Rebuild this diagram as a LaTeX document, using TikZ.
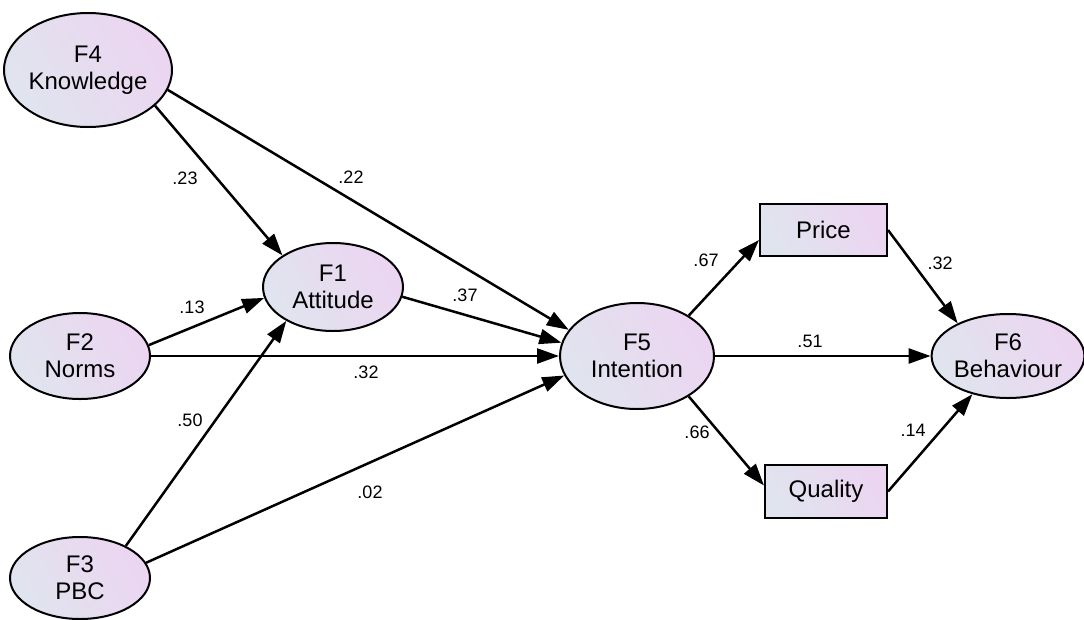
\documentclass[tikz,border=0pt]{standalone}
\usepackage{fontspec}
\setmainfont{Liberation Sans}
\usetikzlibrary{shapes.geometric,arrows.meta,calc}

\definecolor{shadeA}{HTML}{E0E4EE}
\definecolor{shadeB}{HTML}{ECD5F1}

\tikzset{
  latent/.style={ellipse, draw, line width=2pt, inner sep=0pt,
    left color=shadeA, right color=shadeB, shading angle=120,
    align=center, font=\fontsize{24}{27}\selectfont},
  observed/.style={rectangle, draw, line width=2pt, inner sep=0pt,
    left color=shadeA, right color=shadeB, shading angle=120,
    align=center, font=\fontsize{24}{27}\selectfont},
  path/.style={line width=2.5pt, -{Triangle[length=22pt,width=15pt]}},
  coef/.style={font=\fontsize{18}{20}\selectfont, inner sep=0pt}
}

\begin{document}
\begin{tikzpicture}[x=1pt, y=-1pt]
  \useasboundingbox (0,0) rectangle (1084,619);

  % latent constructs
  \node[latent, minimum width=154pt, minimum height=114pt] (F4) at (88,70)   {F4\\Knowledge};
  \node[latent, minimum width=140pt, minimum height=88pt]  (F1) at (333,287) {F1\\Attitude};
  \node[latent, minimum width=140pt, minimum height=86pt]  (F2) at (80,356)  {F2\\Norms};
  \node[latent, minimum width=140pt, minimum height=82pt]  (F3) at (80,578)  {F3\\PBC};
  \node[latent, minimum width=154pt, minimum height=106pt] (F5) at (637,356) {F5\\Intention};
  \node[latent, minimum width=148pt, minimum height=84pt]  (F6) at (1008,356) {F6\\Behaviour};

  % observed variables
  \node[observed, minimum width=127pt, minimum height=52pt] (P) at (823.5,230) {Price};
  \node[observed, minimum width=122pt, minimum height=53pt] (Q) at (826,491.5) {Quality};

  % structural paths
  \draw[path] (F4.-28.5) -- (F1.148);
  \draw[path] (F4.-14.4) -- (F5.159);
  \draw[path] (F2.9.7)   -- (F1.189);
  \draw[path] (F2.0)     -- (F5.180);
  \draw[path] (F3.35)    -- (F1.216);
  \draw[path] (F3.13)    -- (F5.195);
  \draw[path] (F1.-8)    -- (F5.170);
  \draw[path] (F5.38.5)  -- ($(P.west)+(0,10)$);
  \draw[path] (F5.0)     -- (F6.180);
  \draw[path] (F5.-38.5) -- ($(Q.west)+(0,-6)$);
  \draw[path] (P.east)   -- (F6.147);
  \draw[path] (Q.east)   -- (F6.227);

  % path coefficients
  \node[coef] (c41) at (185,178) {.23};
  \node[coef] (c45) at (351,177) {.22};
  \node[coef] (c21) at (192,307) {.13};
  \node[coef] (c15) at (465,295) {.37};
  \node[coef] (c25) at (366,372) {.32};
  \node[coef] (c31) at (190,420) {.50};
  \node[coef] (c35) at (370,492) {.02};
  \node[coef] (c5p) at (706,260) {.67};
  \node[coef] (c56) at (810,341) {.51};
  \node[coef] (c5q) at (697,432) {.66};
  \node[coef] (cp6) at (940,263) {.32};
  \node[coef] (cq6) at (913,430) {.14};
\end{tikzpicture}
\end{document}
